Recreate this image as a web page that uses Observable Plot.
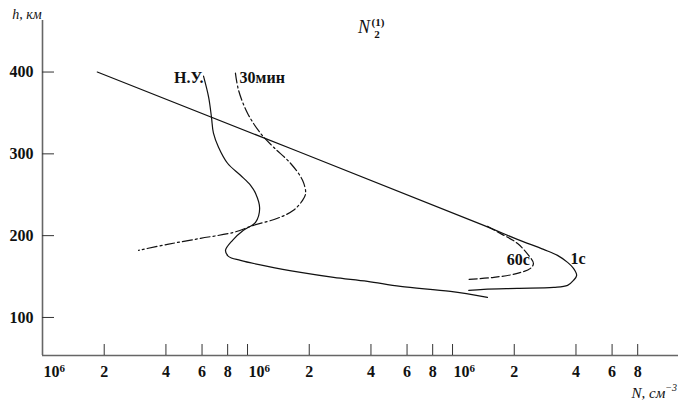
<!DOCTYPE html>
<html>
<head>
<meta charset="utf-8">
<script src="https://cdn.jsdelivr.net/npm/d3@7"></script>
<script src="https://cdn.jsdelivr.net/npm/@observablehq/plot@0.6"></script>
<style>
  body { margin: 0; background: #fff; }
  #chart svg { display: block; }
</style>
</head>
<body>
<div id="chart"></div>
<script>
// ---- Data (N in cm^-3, h in km) ----
const n1s = [1.85e6, 1.42e8, 2.07e8, 2.78e8, 3.25e8, 3.64e8, 3.89e8, 4.03e8, 3.89e8, 3.64e8, 3.11e8, 2.07e8, 1.42e8, 1.20e8];
const h1s = [400, 212.6, 195.5, 183.2, 175.9, 167.3, 160.0, 151.4, 145.3, 139.2, 136.7, 135.5, 134.3, 133.0];

const n60s = [1.48e8, 1.71e8, 2.07e8, 2.35e8, 2.48e8, 2.40e8, 2.07e8, 1.59e8, 1.18e8];
const h60s = [211.4, 202.8, 190.6, 175.9, 166.1, 160.0, 153.9, 149.0, 146.5];

const nNU = [6.10e6, 6.46e6, 6.67e6, 6.82e6, 7.22e6, 7.99e6, 9.24e6, 1.035e7, 1.094e7, 1.146e7, 1.094e7, 9.55e6, 8.45e6, 7.81e6, 8.07e6, 9.24e6, 1.253e7, 1.815e7, 2.63e7, 3.85e7, 5.57e7, 9.77e7, 1.48e8];
const hNU = [395.0, 369.3, 344.8, 325.2, 308.1, 288.5, 273.8, 261.6, 251.8, 233.4, 216.3, 206.5, 194.3, 182.0, 174.7, 169.8, 162.4, 155.1, 149.0, 144.1, 137.9, 131.8, 124.5];

const n30m = [8.73e6, 9.04e6, 1.0e7, 1.157e7, 1.34e7, 1.62e7, 1.855e7, 1.92e7, 1.855e7, 1.675e7, 1.40e7, 1.07e7, 8.55e6, 5.90e6, 4.07e6, 2.94e6];
const h30m = [398.7, 377.8, 349.7, 325.2, 308.1, 288.5, 267.7, 251.8, 243.2, 231.0, 221.2, 212.6, 204.0, 196.7, 189.4, 182.0];

// curve labels and their anchor points (data space)
const labelText = ["Н.У.", "30мин", "60с", "1с"];
const labelN = [6.1e6, 9.14e6, 2.09e8, 4.09e8];
const labelH = [392.5, 392.5, 171, 172.2];

// axes
const xDomain = [1e6, 1.265e9];
const yDomain = [53.5, 463];
const yTicks = [100, 200, 300, 400];
const xMinorTicks = [2e6, 4e6, 6e6, 8e6, 2e7, 4e7, 6e7, 8e7, 2e8, 4e8, 6e8, 8e8];
const xMinorLabels = ["2", "4", "6", "8", "2", "4", "6", "8", "2", "4", "6", "8"];
const xDecadeTicks = [1e6, 1e7, 1e8];
const xDecadeBase = "10";
const xDecadeExp = "6";   // as printed in the original figure

// ---- Build tables ----
const zip = (N, H) => N.map((n, i) => ({N: n, h: H[i]}));
const s1 = zip(n1s, h1s), s60 = zip(n60s, h60s), sNU = zip(nNU, hNU), s30 = zip(n30m, h30m);
const labels = labelText.map((t, i) => ({t, N: labelN[i], h: labelH[i]}));
const minorLab = xMinorTicks.map((v, i) => ({v, t: xMinorLabels[i]}));

const font = "Liberation Serif, Times New Roman, serif";
const axisColor = "#666";
const tickColor = "#333";
const ink = "#111";

const chart = Plot.plot({
  width: 678,
  height: 402,
  marginLeft: 42,
  marginRight: 0,
  marginTop: 20,
  marginBottom: 47,
  style: {fontFamily: font, background: "#fff", color: ink},
  x: {type: "log", domain: xDomain},
  y: {domain: yDomain},
  marks: [
    // axis lines
    Plot.ruleX([xDomain[0]], {stroke: axisColor, strokeWidth: 1.6}),
    Plot.ruleY([yDomain[0]], {stroke: axisColor, strokeWidth: 1.6}),
    // y ticks (inward) and labels
    Plot.axisY({ticks: yTicks, tickSize: -12, tickFormat: () => "", stroke: tickColor, label: null}),
    Plot.axisY({ticks: yTicks, tickSize: 0, tickPadding: 9, tickFormat: d => String(d),
      fontSize: 16, fontWeight: "bold", fill: ink, label: null}),
    // x ticks (inward)
    Plot.axisX({ticks: [...xMinorTicks, 1e7, 1e8], tickSize: -11, tickFormat: () => "", stroke: tickColor, label: null}),
    // x minor labels
    Plot.text(minorLab, {x: "v", text: "t", frameAnchor: "bottom", lineAnchor: "top", dy: 10,
      fontSize: 16, fontWeight: "bold", fill: ink}),
    // x decade labels "10" + superscript
    Plot.text(xDecadeTicks, {x: d => d, text: () => xDecadeBase, frameAnchor: "bottom", lineAnchor: "top",
      textAnchor: "start", dy: 10, dx: 1, fontSize: 16, fontWeight: "bold", fill: ink}),
    Plot.text(xDecadeTicks, {x: d => d, text: () => xDecadeExp, frameAnchor: "bottom", lineAnchor: "top",
      textAnchor: "start", dy: 9, dx: 17, fontSize: 11, fontWeight: "bold", fill: ink}),
    // curves
    Plot.line(s1, {x: "N", y: "h", curve: "catmull-rom", stroke: ink, strokeWidth: 1.2}),
    Plot.line(s60, {x: "N", y: "h", curve: "catmull-rom", stroke: ink, strokeWidth: 1.2, strokeDasharray: "8,3"}),
    Plot.line(sNU, {x: "N", y: "h", curve: "catmull-rom", stroke: ink, strokeWidth: 1.2}),
    Plot.line(s30, {x: "N", y: "h", curve: "catmull-rom", stroke: ink, strokeWidth: 1.2, strokeDasharray: "10,3,2,3"}),
    // curve labels
    Plot.text(labels.filter(d => d.t === "Н.У."), {x: "N", y: "h", text: "t", textAnchor: "end", fontSize: 16, fontWeight: "bold", fill: ink}),
    Plot.text(labels.filter(d => d.t === "30мин"), {x: "N", y: "h", text: "t", textAnchor: "start", fontSize: 16, fontWeight: "bold", fill: ink}),
    Plot.text(labels.filter(d => d.t === "60с" || d.t === "1с"), {x: "N", y: "h", text: "t", textAnchor: "middle", fontSize: 16, fontWeight: "bold", fill: ink})
  ]
});

const svg = d3.select(chart);
// y-axis title
svg.append("text").attr("x", 27).attr("y", 19)
  .attr("font-family", font).attr("font-style", "italic").attr("font-size", 14).attr("fill", ink)
  .text("h, км");
// chart title N2^(1)
const tt = svg.append("g").attr("font-family", font).attr("fill", ink);
tt.append("text").attr("x", 364).attr("y", 33).attr("font-size", 18).attr("font-style", "italic").text("N");
tt.append("text").attr("x", 377).attr("y", 38).attr("font-size", 11).attr("font-weight", "bold").text("2");
tt.append("text").attr("x", 378).attr("y", 26).attr("font-size", 11).attr("font-weight", "bold").text("(1)");
// x-axis title N, cm^-3
const xt = svg.append("text").attr("x", 677).attr("y", 398).attr("text-anchor", "end")
  .attr("font-family", font).attr("font-style", "italic").attr("font-size", 15).attr("fill", ink);
xt.append("tspan").text("N, см");
xt.append("tspan").attr("font-size", 10).attr("dy", -7).text("−3");

document.getElementById("chart").append(chart);
</script>
</body>
</html>
